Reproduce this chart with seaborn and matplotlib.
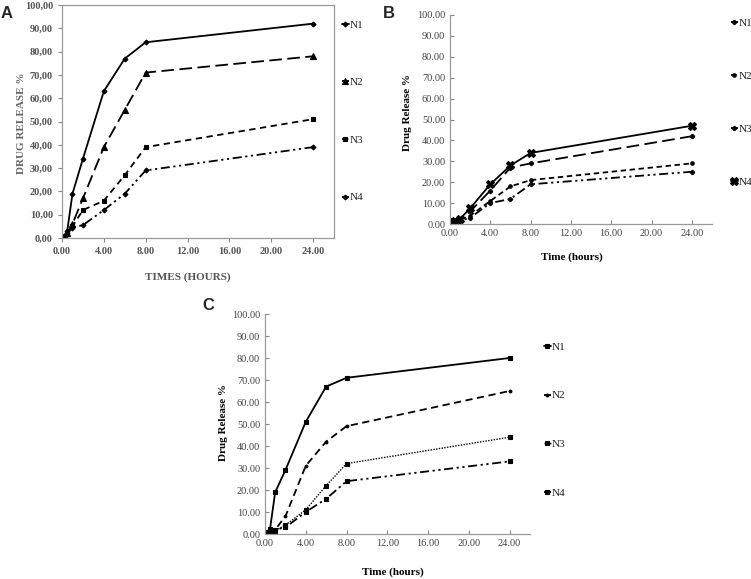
import numpy as np
import pandas as pd
import matplotlib
matplotlib.use("Agg")
import matplotlib.pyplot as plt
import seaborn as sns
from matplotlib.ticker import MultipleLocator, FixedLocator

# =====================================
# Data
# =====================================

times = [0.25, 0.5, 1, 2, 4, 6, 8, 24]
series_names = ["N1", "N2", "N3", "N4"]

a_n1 = [1, 3, 19, 34, 63, 77, 84, 92]
a_n2 = [1, 2, 6, 17, 39, 55, 71, 78]
a_n3 = [1, 2, 5, 12, 16, 27, 39, 51]
a_n4 = [1, 2, 4.5, 5.5, 12, 19, 29, 39]

b_n1 = [1, 1, 2, 6, 16, 27, 29, 42]
b_n2 = [0.5, 1, 2, 4, 11, 18, 21, 29]
b_n3 = [0.5, 1, 1.5, 3, 10, 12, 19, 25]
b_n4 = [1, 1.5, 2.5, 7.5, 19, 28, 34, 47]

c_n1 = [1, 2.5, 19, 29, 51, 67, 71, 80]
c_n2 = [1, 1, 2, 8, 31, 42, 49, 65]
c_n3 = [1, 1, 1.5, 4, 11, 22, 32, 44]
c_n4 = [1, 1, 2, 3, 10, 16, 24, 33]

x_ticks = [0, 4, 8, 12, 16, 20, 24]
y_ticks = [0, 10, 20, 30, 40, 50, 60, 70, 80, 90, 100]

# =====================================
# Styles
# =====================================

sns.set_style("white")
plt.rcParams["font.family"] = ["Liberation Serif", "DejaVu Serif"]

W, H = 751, 579
fig = plt.figure(figsize=(W / 100, H / 100), dpi=100)


def box(left, right, bottom_px, top_px):
    return [left / W, 1 - bottom_px / H, (right - left) / W, (bottom_px - top_px) / H]


def panel(ax, data, styles, comma_y, legend_px, spacing, tick_color, full_box):
    for name, vals, st in zip(series_names, data, styles):
        sns.lineplot(x=times, y=vals, ax=ax, color=st.get("color", "black"),
                     linestyle=st["ls"], linewidth=st.get("lw", 1.3),
                     marker=st["m"], markersize=st["ms"], markeredgewidth=0.8,
                     markeredgecolor="black", markerfacecolor="black",
                     label=name, errorbar=None)
    ax.set_xlim(0, 26)
    ax.set_ylim(0, 100)
    ax.xaxis.set_major_locator(FixedLocator(x_ticks))
    ax.yaxis.set_major_locator(FixedLocator(y_ticks))
    ax.set_xticklabels([f"{t:.2f}" for t in x_ticks])
    if comma_y:
        ax.set_yticklabels([f"{t:.2f}".replace(".", ",") for t in y_ticks])
    else:
        ax.set_yticklabels([f"{t:.2f}" for t in y_ticks])
    ax.tick_params(labelsize=7.5, colors="#888888", labelcolor=tick_color, length=3)
    for s in ax.spines.values():
        s.set_color("#999999")
        s.set_linewidth(0.9)
    if not full_box:
        ax.spines["top"].set_visible(False)
        ax.spines["right"].set_visible(False)
        ax.yaxis.set_minor_locator(MultipleLocator(2))
        ax.xaxis.set_minor_locator(MultipleLocator(2))
        ax.tick_params(which="minor", length=2, color="#bbbbbb", direction="in")
        ax.tick_params(which="major", direction="in")
    ax.tick_params(left=True, bottom=True)
    leg = ax.legend(loc="upper left", bbox_to_anchor=(legend_px[0] / W, 1 - legend_px[1] / H),
                    bbox_transform=fig.transFigure, frameon=False, fontsize=8,
                    handlelength=0.6, handletextpad=0.1, labelspacing=spacing,
                    borderpad=0, borderaxespad=0)
    for t in leg.get_texts():
        t.set_color("#222222")


def place_labels(ax, ax_box, xlab_px, ylab_px):
    # ax_box = (left, right, bottom, top) in pixels, label positions are centres
    left, right, bottom, top = ax_box
    ax.xaxis.set_label_coords((xlab_px[0] - left) / (right - left),
                              -(xlab_px[1] - bottom) / (bottom - top))
    ax.yaxis.set_label_coords(-(left - ylab_px[0]) / (right - left),
                              (bottom - ylab_px[1]) / (bottom - top))
    ax.xaxis.label.set_va("center")
    ax.yaxis.label.set_va("center")


# =====================================
# Panel A
# =====================================

ax_a = fig.add_axes(box(62, 334, 238, 5))
styles_a = [
    {"ls": "-", "m": "D", "ms": 2.5},
    {"ls": (0, (7, 3)), "m": "^", "ms": 4},
    {"ls": (0, (3.5, 2.5)), "m": "s", "ms": 3},
    {"ls": (0, (5, 2, 1.2, 2, 1.2, 2)), "m": "D", "ms": 2.5},
]
panel(ax_a, [a_n1, a_n2, a_n3, a_n4], styles_a, True, (342, 20), 4.3, "#555555", True)
for lab in ax_a.get_xticklabels() + ax_a.get_yticklabels():
    lab.set_fontweight("bold")
ax_a.set_xlabel("TIMES (HOURS)", fontsize=8, fontweight="bold", color="#555555")
ax_a.set_ylabel("DRUG RELEASE %", fontsize=8, fontweight="bold", color="#666666")
place_labels(ax_a, (62, 334, 238, 5), (188, 277), (22, 123))

# =====================================
# Panel B
# =====================================

ax_b = fig.add_axes(box(450, 712, 224, 15))
styles_b = [
    {"ls": (0, (7, 3)), "m": "P", "ms": 3},
    {"ls": (0, (3, 2)), "m": "o", "ms": 2.5},
    {"ls": (0, (5, 2, 1.2, 2, 1.2, 2)), "m": "P", "ms": 3},
    {"ls": "-", "m": "X", "ms": 5.5},
]
panel(ax_b, [b_n1, b_n2, b_n3, b_n4], styles_b, False, (731, 18), 3.9, "#444444", False)
ax_b.set_xlabel("Time (hours)", fontsize=8, fontweight="bold", color="black")
ax_b.set_ylabel("Drug Release %", fontsize=8, fontweight="bold", color="black")
place_labels(ax_b, (450, 712, 224, 15), (572, 257), (408, 113))

# =====================================
# Panel C
# =====================================

ax_c = fig.add_axes(box(265, 530, 534, 314))
styles_c = [
    {"ls": "-", "m": "s", "ms": 3.5},
    {"ls": (0, (4, 2.5)), "m": "o", "ms": 2},
    {"ls": (0, (1, 1)), "m": "s", "ms": 2.5, "lw": 1.0},
    {"ls": (0, (5, 2, 1.2, 2, 1.2, 2)), "m": "s", "ms": 3},
]
panel(ax_c, [c_n1, c_n2, c_n3, c_n4], styles_c, False, (544, 342), 3.5, "#444444", False)
ax_c.set_xlabel("Time (hours)", fontsize=8, fontweight="bold", color="black")
ax_c.set_ylabel("Drug Release %", fontsize=8, fontweight="bold", color="black")
place_labels(ax_c, (265, 530, 534, 314), (393, 572), (223, 423))

# =====================================
# Panel letters
# =====================================

for letter, px, py in [("A", 1, 6), ("B", 383, 6), ("C", 202, 298)]:
    fig.text(px / W, 1 - py / H, letter, fontsize=12, fontweight="bold",
             family="Liberation Sans", va="top", ha="left")

fig.savefig("out.png", dpi=100)
plt.close()
